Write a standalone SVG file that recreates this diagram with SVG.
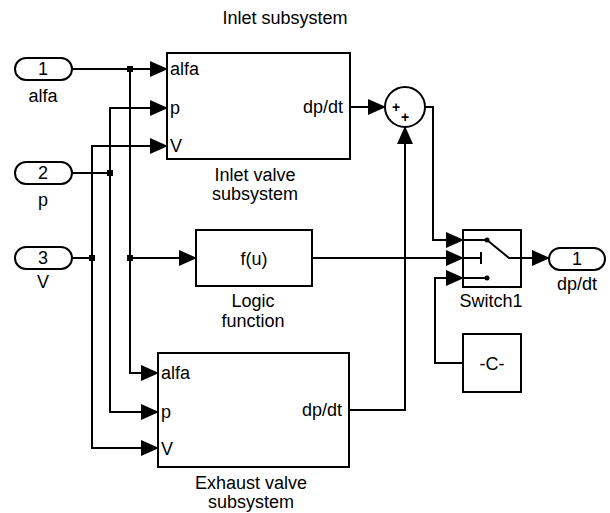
<svg xmlns="http://www.w3.org/2000/svg" width="610" height="513" viewBox="0 0 610 513">
<style>
text{font-family:"Liberation Sans",Arial,sans-serif;font-size:18px;fill:#000}
.c{text-anchor:middle}
.e{text-anchor:end}
.blk{fill:#fff;stroke:#000;stroke-width:2}
.ln{fill:none;stroke:#000;stroke-width:2}
.ar{fill:none;stroke:#000;stroke-width:2;marker-end:url(#ah)}
</style>
<defs>
<marker id="ah" markerUnits="userSpaceOnUse" viewBox="0 0 18 16" markerWidth="18" markerHeight="16" refX="17" refY="8" orient="auto">
<path d="M0,0 L18,8 L0,16 z" fill="#000"/>
</marker>
</defs>
<rect width="610" height="513" fill="#fff"/>
<text x="285" y="24" class="c">Inlet subsystem</text>

<g id="connectors">
<path class="ar" d="M72,69 H167"/>
<path class="ar" d="M130,69 V373 H158"/>
<path class="ar" d="M130,258 H196"/>
<path class="ln" d="M72,173 H110"/>
<path class="ar" d="M110,173 V108 H167"/>
<path class="ar" d="M110,173 V412 H158"/>
<path class="ln" d="M72,258 H92"/>
<path class="ar" d="M92,258 V146 H167"/>
<path class="ar" d="M92,258 V448 H158"/>
<path class="ar" d="M350,107 H385"/>
<path class="ar" d="M349,410 H405 V127"/>
<path class="ar" d="M425,107 H433 V240 H463"/>
<path class="ar" d="M312,258 H463"/>
<path class="ar" d="M463,363 H435 V278 H463"/>
<path class="ar" d="M521,258 H549"/>
<rect x="127" y="66" width="6" height="6"/>
<rect x="127" y="255" width="6" height="6"/>
<rect x="107" y="170" width="6" height="6"/>
<rect x="89" y="255" width="6" height="6"/>
</g>

<g id="in1">
<rect class="blk" x="15" y="58" width="57" height="22" rx="11"/>
<text x="43" y="75" class="c">1</text>
<text x="43" y="102" class="c">alfa</text>
</g>
<g id="in2">
<rect class="blk" x="15" y="162" width="57" height="22" rx="11"/>
<text x="43" y="179" class="c">2</text>
<text x="43" y="206" class="c">p</text>
</g>
<g id="in3">
<rect class="blk" x="15" y="247" width="57" height="22" rx="11"/>
<text x="43" y="264" class="c">3</text>
<text x="43" y="288" class="c">V</text>
</g>

<g id="inlet">
<rect class="blk" x="167" y="53" width="183" height="106"/>
<text x="170" y="75">alfa</text>
<text x="170" y="114">p</text>
<text x="170" y="152">V</text>
<text x="343" y="113" class="e">dp/dt</text>
<text x="255" y="181" class="c">Inlet valve</text>
<text x="255" y="200" class="c">subsystem</text>
</g>

<g id="logic">
<rect class="blk" x="196" y="230" width="116" height="56"/>
<text x="254" y="265" class="c">f(u)</text>
<text x="253" y="307" class="c">Logic</text>
<text x="253" y="327" class="c">function</text>
</g>

<g id="exhaust">
<rect class="blk" x="158" y="353" width="191" height="114"/>
<text x="161" y="379">alfa</text>
<text x="161" y="418">p</text>
<text x="161" y="455">V</text>
<text x="342" y="416" class="e">dp/dt</text>
<text x="251" y="489" class="c">Exhaust valve</text>
<text x="251" y="508" class="c">subsystem</text>
</g>

<g id="sum">
<circle class="blk" cx="405" cy="107" r="20"/>
<text x="396" y="112" class="c" style="font-size:14px;font-weight:bold">+</text>
<text x="405" y="122" class="c" style="font-size:14px;font-weight:bold">+</text>
</g>

<g id="switch">
<rect class="blk" x="463" y="230" width="58" height="57"/>
<path class="ln" d="M463,240 H487 L509,258 H521 M463,258 H481 M481,252 V264 M463,278 H487"/>
<circle cx="487" cy="240" r="2.5"/>
<circle cx="487" cy="278" r="2.5"/>
<text x="491" y="307" class="c">Switch1</text>
</g>

<g id="const">
<rect class="blk" x="463" y="334" width="58" height="58"/>
<text x="492" y="370" class="c">-C-</text>
</g>

<g id="out1">
<rect class="blk" x="549" y="248" width="56" height="22" rx="11"/>
<text x="577" y="265" class="c">1</text>
<text x="577" y="290" class="c">dp/dt</text>
</g>
</svg>
